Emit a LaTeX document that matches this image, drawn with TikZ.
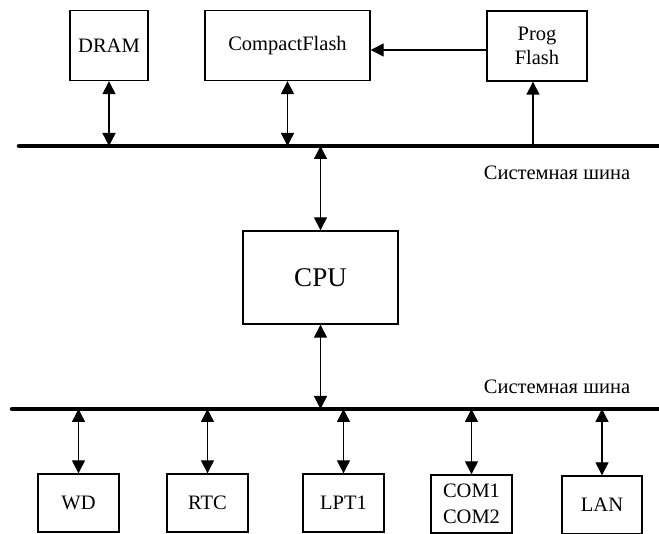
\documentclass[tikz,border=0pt]{standalone}
\usepackage{fontspec}
\setmainfont{Liberation Serif}
\usetikzlibrary{arrows.meta}
\begin{document}
\begin{tikzpicture}[x=1pt,y=-1pt,
  box/.style={draw,line width=1.4pt,rectangle,inner sep=0pt,font=\fontsize{20.5}{24}\selectfont,align=center},
  bus/.style={line width=4.5pt,line cap=round},
  conn/.style={line width=1.4pt},
  bi/.style={conn,{Triangle[length=13pt,width=13pt]}-{Triangle[length=13pt,width=13pt]}},
  uni/.style={conn,-{Triangle[length=13pt,width=13pt]}},
  lbl/.style={font=\fontsize{20.5}{24}\selectfont,inner sep=0pt}]
\useasboundingbox (0,0) rectangle (659,534);
% top boxes
\node[box,minimum width=78pt,minimum height=70pt] (dram) at (109,45.5) {DRAM};
\node[box,minimum width=165pt,minimum height=70pt] (cf) at (287.5,45.5) {CompactFlash};
\node[box,minimum width=100pt,minimum height=70pt] (pf) at (537,46) {Prog\\Flash};
% CPU
\node[box,minimum width=155pt,minimum height=93pt,font=\fontsize{27}{30}\selectfont] (cpu) at (320.5,277.5) {CPU};
% bottom boxes
\node[box,minimum width=81pt,minimum height=58pt] (wd) at (78.5,503) {WD};
\node[box,minimum width=81pt,minimum height=58pt] (rtc) at (207.5,503) {RTC};
\node[box,minimum width=81pt,minimum height=58pt] (lpt) at (343.5,503) {LPT1};
\node[box,minimum width=81pt,minimum height=58pt,font=\fontsize{20.5}{26}\selectfont] (com) at (471.5,504) {COM1\\COM2};
\node[box,minimum width=80pt,minimum height=58pt] (lan) at (602,505) {LAN};
% buses
\coordinate (b1l) at (19,146);
\coordinate (b1r) at (665,146);
\coordinate (b2l) at (12,409);
\coordinate (b2r) at (665,409);
\draw[bus] (b1l) -- (b1r);
\draw[bus] (b2l) -- (b2r);
\node[lbl] (l1) at (557,173) {Системная шина};
\node[lbl] (l2) at (557,387) {Системная шина};
% top connectors
\draw[bi] (dram.south) -- (dram.south |- b1l);
\draw[bi] (cf.south) -- (cf.south |- b1l);
\coordinate (pfb) at ([xshift=-4pt]pf.south);
\draw[uni] (pfb |- b1l) -- (pfb);
\coordinate (pfw) at ([yshift=-4pt]pf.west);
\draw[uni] (pfw) -- (pfw -| cf.east);
\draw[bi] (cpu.north |- b1l) -- (cpu.north);
\draw[bi] (cpu.south) -- (cpu.south |- b2l);
% bottom connectors
\draw[bi] (wd.north |- b2l) -- (wd.north);
\draw[bi] (rtc.north |- b2l) -- (rtc.north);
\draw[bi] (lpt.north |- b2l) -- (lpt.north);
\draw[bi] (com.north |- b2l) -- (com.north);
\draw[bi] (lan.north |- b2l) -- (lan.north);
\end{tikzpicture}
\end{document}
